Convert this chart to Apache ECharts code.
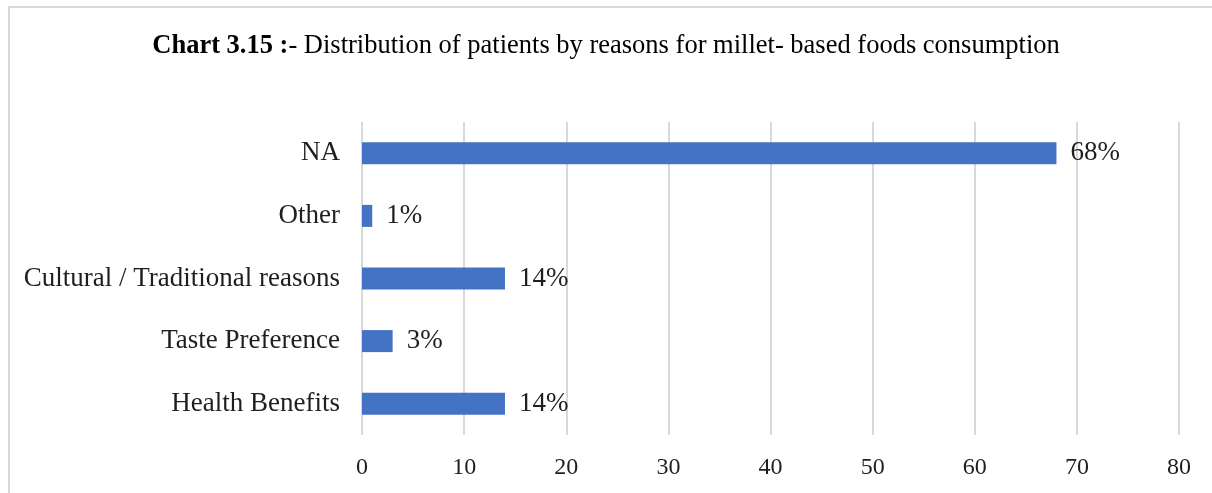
<!DOCTYPE html>
<html>
<head>
<meta charset="utf-8">
<script src="https://cdn.jsdelivr.net/npm/echarts@6/dist/echarts.min.js"></script>
<style>
  html, body { margin: 0; padding: 0; background: #fff; }
  #frame { position: absolute; left: 8px; top: 6px; width: 1230px; height: 520px;
           border: 2px solid #d9d9d9; box-sizing: border-box; }
  #chart { position: absolute; left: 0; top: 0; width: 1212px; height: 493px; }
</style>
</head>
<body>
<div id="frame"></div>
<div id="chart"></div>
<script>
// Reasons for consuming millet-based foods (bottom to top on the axis)
const categories = ['Health Benefits', 'Taste Preference', 'Cultural / Traditional reasons', 'Other', 'NA'];
const percentages = [14, 3, 14, 1, 68];
const xTicks = { min: 0, max: 80, interval: 10 };

const serif = '"Liberation Serif", "Times New Roman", serif';
const chart = echarts.init(document.getElementById('chart'), null, { renderer: 'canvas' });

chart.setOption({
  animation: false,
  title: {
    text: '{b|Chart 3.15 :}{n|- Distribution of patients by reasons for millet- based foods consumption}',
    left: 'center',
    top: 28,
    textStyle: {
      fontWeight: 'normal',
      rich: {
        b: { fontFamily: serif, fontSize: 26.5, fontWeight: 'bold', color: '#000' },
        n: { fontFamily: serif, fontSize: 26.5, fontWeight: 'normal', color: '#000' }
      }
    }
  },
  grid: { left: 362, right: 33, top: 122, bottom: 58, containLabel: false },
  xAxis: {
    type: 'value',
    min: xTicks.min,
    max: xTicks.max,
    interval: xTicks.interval,
    axisLine: { show: false },
    axisTick: { show: false },
    splitLine: { show: true, lineStyle: { color: '#d9d9d9', width: 2 } },
    axisLabel: { fontFamily: serif, fontSize: 24, color: '#1f1f1f', margin: 21 }
  },
  yAxis: {
    type: 'category',
    data: categories,
    axisLine: { show: false },
    axisTick: { show: false },
    axisLabel: { fontFamily: serif, fontSize: 27, color: '#1f1f1f', margin: 22 }
  },
  series: [{
    type: 'bar',
    data: percentages,
    barWidth: 22,
    itemStyle: { color: '#4472c4' },
    label: {
      show: true,
      position: 'right',
      distance: 14,
      formatter: p => p.value + '%',
      fontFamily: serif,
      fontSize: 27,
      color: '#1f1f1f'
    }
  }]
});
</script>
</body>
</html>
